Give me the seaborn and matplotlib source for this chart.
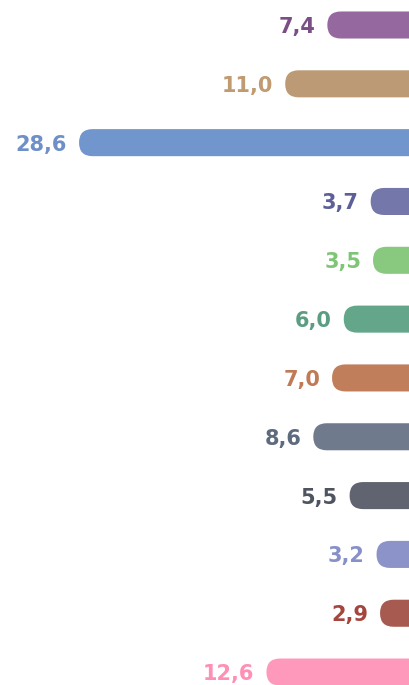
import matplotlib
matplotlib.use("Agg")
import matplotlib.pyplot as plt
from matplotlib.patches import FancyBboxPatch
import seaborn as sns
import pandas as pd

categories = ["A", "B", "C", "D", "E", "F", "G", "H", "I", "J", "K", "L"]
values = [7.4, 11.0, 28.6, 3.7, 3.5, 6.0, 7.0, 8.6, 5.5, 3.2, 2.9, 12.6]
labels = ["7,4", "11,0", "28,6", "3,7", "3,5", "6,0", "7,0", "8,6", "5,5", "3,2", "2,9", "12,6"]
bar_colors = ["#9569a0", "#bc9a76", "#7195cd", "#7477aa", "#88c97f", "#63a68a",
              "#c07f5a", "#6f7a8c", "#5f6470", "#8b93c8", "#a65a50", "#ff99bb"]
text_colors = ["#7b4f86", "#c09a70", "#6e8fc8", "#5d5f98", "#7fc576", "#5a9d82",
               "#c07a55", "#5e6a7e", "#4f5461", "#8890c9", "#a4463e", "#ff8fb5"]

df = pd.DataFrame({"cat": categories, "val": values})

sns.set_style("white")
fig = plt.figure(figsize=(4.09, 6.85), dpi=100)
ax = fig.add_axes([0, 0, 1, 1])

bar_h = 0.46
sns.barplot(data=df, x="val", y="cat", hue="cat", palette=bar_colors,
            orient="h", width=bar_h, legend=False, ax=ax, saturation=1)

ax.set_xlim(35.35, 0.427)
ax.set_ylim(11.22, -0.425)

# replace rectangles by rounded bars
x_per_px = 1 / 11.71
y_per_px = 1 / 58.8
radius_px = 13.5
rs = radius_px * x_per_px
aspect = y_per_px / x_per_px
for p in list(ax.patches):
    x0, y0 = p.get_x(), p.get_y()
    w, h = p.get_width(), p.get_height()
    fc = p.get_facecolor()
    p.set_visible(False)
    fb = FancyBboxPatch((x0 - 3, y0), w + 3, h,
                        boxstyle=f"round,pad=0,rounding_size={rs}",
                        mutation_aspect=aspect, facecolor=fc,
                        edgecolor="none", linewidth=0)
    ax.add_patch(fb)

for i, (v, lab, c) in enumerate(zip(values, labels, text_colors)):
    ax.annotate(lab, xy=(v, i), xytext=(-8.6, 0), textcoords="offset points",
                ha="right", va="center_baseline", fontsize=15, fontweight="bold",
                color=c, family="DejaVu Sans")

ax.set_axis_off()
fig.savefig("out.png", dpi=100)
